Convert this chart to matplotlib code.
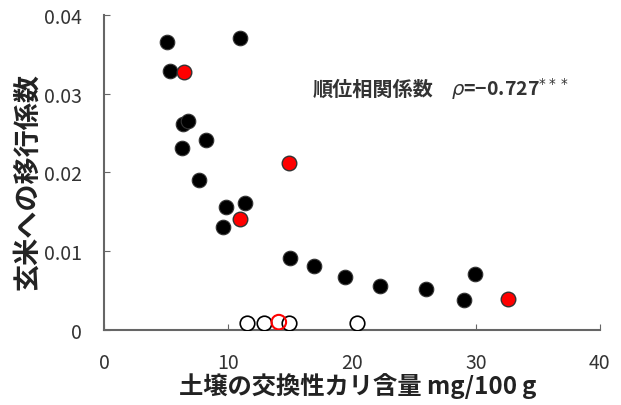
import matplotlib
matplotlib.use("Agg")
import matplotlib.pyplot as plt

plt.rcParams['font.family'] = ['Noto Sans CJK JP', 'DejaVu Sans']

# black filled points
bx = [5.1, 5.3, 11.0, 6.4, 6.8, 6.3, 8.2, 7.7, 9.8, 11.4, 9.6, 15.0, 16.9, 19.4, 22.3, 26.0, 29.0, 29.9]
by = [0.0366, 0.0329, 0.0371, 0.0262, 0.0265, 0.0231, 0.0241, 0.0190, 0.0156, 0.0161, 0.0131,
      0.0091, 0.0081, 0.0067, 0.0056, 0.0052, 0.0038, 0.0071]
# red filled points
rx = [6.45, 14.9, 11.0, 32.6]
ry = [0.0328, 0.0212, 0.0141, 0.0039]
# open points (below detection)
ox = [11.5, 12.9, 14.9, 20.4]
oy = [0.0009, 0.0009, 0.0009, 0.0009]
# red open point
rox = [14.1]
roy = [0.0010]

fig = plt.figure(figsize=(6.21, 4.06), dpi=100)
ax = fig.add_axes([0.1675, 0.1847, 0.7985, 0.776])

ax.scatter(bx, by, s=110, c='black', edgecolors='#333333', linewidths=0.8, zorder=3)
ax.scatter(rx, ry, s=110, c='red', edgecolors='#333333', linewidths=1.0, zorder=3)
ax.scatter(ox, oy, s=110, facecolors='white', edgecolors='black', linewidths=1.2, zorder=3)
ax.scatter(rox, roy, s=110, facecolors='none', edgecolors='red', linewidths=1.5, zorder=4)

ax.set_xlim(0, 40)
ax.set_ylim(0, 0.04)
ax.set_xticks([0, 10, 20, 30, 40])
ax.set_yticks([0, 0.01, 0.02, 0.03, 0.04])
ax.set_yticklabels(['0', '0.01', '0.02', '0.03', '0.04'])
ax.tick_params(direction='in', length=4, color='#666666', labelsize=14, labelcolor='#333333')
ax.tick_params(axis='x', pad=16)
ax.tick_params(axis='y', pad=16)

for s in ['top', 'right']:
    ax.spines[s].set_visible(False)
for s in ['left', 'bottom']:
    ax.spines[s].set_color('#666666')
    ax.spines[s].set_linewidth(1.5)

ax.set_xlabel('土壌の交換性カリ含量 mg/100\u2009g', fontsize=17.5, fontweight='bold', color='#222222', va='center')
ax.xaxis.set_label_coords(0.512, -0.175)
ax.set_ylabel('玄米への移行係数', fontsize=19.5, fontweight='bold', color='#222222', va='center')
ax.yaxis.set_label_coords(-0.155, 0.475)

ax.text(16.8, 0.0307, '順位相関係数', fontsize=14.5, fontweight='bold', color='#333333', va='center')
ax.text(28.0, 0.0307, r'$\rho$=−0.727$^{***}$', fontsize=14, color='#333333', va='center',
        fontweight='bold')

fig.savefig('out.png', dpi=100)
